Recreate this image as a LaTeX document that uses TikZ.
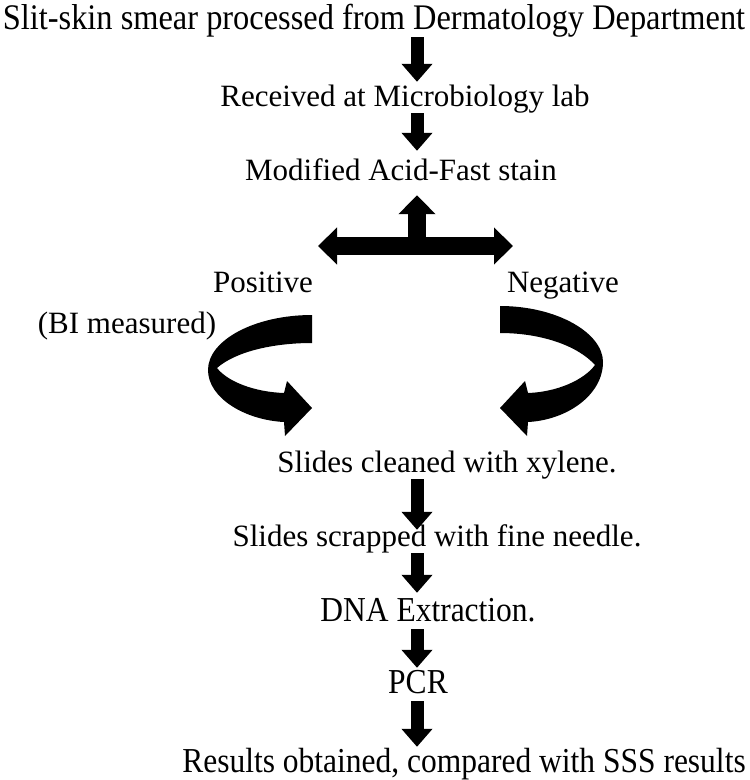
\documentclass[tikz,border=0pt]{standalone}
\usepackage{fontspec}
\setmainfont{Liberation Serif}
\newfontfamily\narrowserif[FakeStretch=0.9]{Liberation Serif}
\usetikzlibrary{positioning}
\usetikzlibrary{arrows.meta}

\tikzset{
	steptext/.style={inner sep=0pt, anchor=base, text height=22pt, text depth=7pt, font=\fontsize{31}{36}\selectfont},
	narrowtext/.style={inner sep=0pt, anchor=base, text height=25pt, text depth=8pt, font=\narrowserif\fontsize{35}{40}\selectfont},
	downarrow/.style={black, line width=13pt, -{Triangle[length=18pt,width=30pt]}},
	fatarrow/.style={black, line width=18pt, -{Triangle[length=19pt,width=36pt]}},
	fatdouble/.style={black, line width=18pt, {Triangle[length=19pt,width=36pt]}-{Triangle[length=19pt,width=36pt]}}
}

\begin{document}
\begin{tikzpicture}[x=1pt, y=-1pt]
					\useasboundingbox[fill=white] (0, 0) rectangle (750, 780);
					\coordinate (col) at (417, 0);
					\node[narrowtext, font=\narrowserif\fontsize{36}{40}\selectfont] (smear) at (374, 29) {Slit-skin smear processed from Dermatology Department};
					\node[steptext] (received) at (405, 106) {Received at Microbiology lab};
					\node[steptext] (stain) at (401, 180) {Modified Acid-Fast stain};
					\node[steptext] (positive) at (263, 292) {Positive};
					\node[steptext] (negative) at (563, 292) {Negative};
					\node[steptext] (bimeasured) at (127, 333) {(BI measured)};
					\node[steptext] (cleaned) at (447, 472) {Slides cleaned with xylene.};
					\node[steptext] (scrapped) at (437, 546) {Slides scrapped with fine needle.};
					\node[narrowtext] (dna) at (428, 621) {DNA Extraction.};
					\node[narrowtext] (pcr) at (418, 693) {PCR};
					\node[narrowtext] (results) at (464, 772) {Results obtained, compared with SSS results};
					\draw[downarrow, shorten >=2pt] (smear.south -| col)--(received.north -| col);
					\draw[downarrow, shorten >=7pt] (received.south -| col)--(stain.north -| col);
					\coordinate (split) at (417, 246);
					\coordinate (splitleft) at (318, 246);
					\coordinate (splitright) at (513, 246);
					\draw[fatdouble] (splitleft)--(splitright);
					\draw[fatarrow, shorten >=8pt] (split)--(stain.south -| col);
					\fill[black] (312, 315) .. controls (255, 315) and (208, 340) .. (208, 370) .. controls (208, 398) and (245, 420) .. (284, 422) -- (285, 436) -- (312, 408) -- (287, 381) -- (284, 393) .. controls (255, 392) and (228, 382) .. (217, 368) .. controls (235, 352) and (272, 343) .. (312, 343) -- cycle;
					\fill[black] (500, 306) .. controls (557, 306) and (603, 333) .. (603, 362) .. controls (603, 395) and (567, 420) .. (528, 422) -- (527, 436) -- (500, 408) -- (525, 381) -- (528, 393) .. controls (557, 392) and (584, 380) .. (595, 365) .. controls (577, 345) and (540, 333) .. (500, 333) -- cycle;
					\draw[downarrow, shorten >=-6pt] (cleaned.south -| col)--(scrapped.north -| col);
					\draw[downarrow, shorten >=3pt] (scrapped.south -| col)--(dna.north -| col);
					\draw[downarrow] (dna.south -| col)--(pcr.north -| col);
					\draw[downarrow] (pcr.south -| col)--(results.north -| col);
				\end{tikzpicture}
\end{document}
